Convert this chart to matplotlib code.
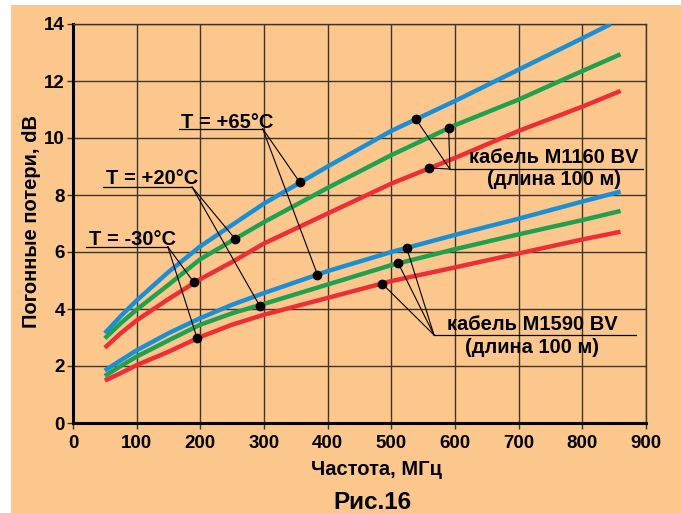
import numpy as np
import matplotlib
matplotlib.use("Agg")
import matplotlib.pyplot as plt
from matplotlib.patches import Rectangle

plt.rcParams['font.family'] = ['Liberation Sans', 'DejaVu Sans']
plt.rcParams['font.weight'] = 'bold'

# frequency grid, MHz
freq = [50, 75, 100, 150, 200, 250, 300, 400, 500, 600, 700, 800, 860]
freq_top = [50, 75, 100, 150, 200, 250, 300, 400, 500, 600, 700, 800, 845]

# cable M1160 BV, loss dB per 100 m
m1160_p65 = [3.15, 3.75, 4.3, 5.3, 6.2, 6.95, 7.7, 9.0, 10.25, 11.3, 12.4, 13.5, 14.0]
m1160_p20 = [2.97, 3.5, 3.98, 4.85, 5.75, 6.4, 7.05, 8.25, 9.4, 10.45, 11.35, 12.35, 12.94]
m1160_m30 = [2.64, 3.15, 3.6, 4.35, 5.05, 5.65, 6.3, 7.35, 8.4, 9.3, 10.25, 11.1, 11.65]

# cable M1590 BV
m1590_p65 = [1.84, 2.2, 2.55, 3.15, 3.68, 4.15, 4.56, 5.33, 6.0, 6.6, 7.17, 7.77, 8.12]
m1590_p20 = [1.65, 2.0, 2.33, 2.9, 3.45, 3.85, 4.18, 4.86, 5.54, 6.1, 6.62, 7.12, 7.44]
m1590_m30 = [1.49, 1.75, 2.03, 2.5, 3.02, 3.45, 3.8, 4.39, 4.98, 5.46, 5.95, 6.44, 6.71]

# marked points (f, dB)
dots_temp = {
    "p65": [(356, 8.45), (384, 5.2)],
    "p20": [(255, 6.45), (293, 4.12)],
    "m30": [(190, 4.93), (195, 2.97)],
}
dots_m1160 = [(538, 10.68), (590, 10.36), (559, 8.95)]
dots_m1590 = [(524, 6.15), (511, 5.6), (486, 4.88)]

temp_labels = ["T = +65°C", "T = +20°C", "T = -30°C"]
cable_labels = ["кабель M1160 BV", "кабель M1590 BV"]
length_label = "(длина 100 м)"

xticks = [0, 100, 200, 300, 400, 500, 600, 700, 800, 900]
yticks = [0, 2, 4, 6, 8, 10, 12, 14]

BLUE = '#1b8fd3'
GREEN = '#1fa150'
RED = '#ec2f36'
PEACH = '#fcc78d'
GRID = '#3d342a'

fig = plt.figure(figsize=(6.81, 5.13), dpi=100)
fig.patch.set_facecolor('white')
fig.patches.append(Rectangle((11 / 681, 0), 1, 508 / 513, transform=fig.transFigure,
                             facecolor=PEACH, edgecolor='none', zorder=-10))

ax = fig.add_axes([73 / 681, 1 - 423 / 513, 573 / 681, 399 / 513])
ax.set_facecolor(PEACH)
ax.set_xlim(0, 900)
ax.set_ylim(0, 14)
ax.set_xticks(xticks)
ax.set_yticks(yticks)
ax.grid(True, color=GRID, lw=1.0)
ax.set_axisbelow(True)
ax.tick_params(axis='both', colors=GRID, length=4, width=1.0, labelsize=13.5, labelcolor='black')
ax.tick_params(axis='x', pad=5)
ax.tick_params(axis='y', pad=2)
for lab in ax.get_xticklabels() + ax.get_yticklabels():
    lab.set_fontweight('bold')
for s in ['left', 'bottom']:
    ax.spines[s].set_color('black')
    ax.spines[s].set_linewidth(2.2)
for s in ['top', 'right']:
    ax.spines[s].set_color(GRID)
    ax.spines[s].set_linewidth(1.0)

lw = 3.2
ax.plot(freq_top, m1160_p65, color=BLUE, lw=lw, solid_capstyle='butt', zorder=3)
ax.plot(freq, m1160_p20, color=GREEN, lw=lw, solid_capstyle='butt', zorder=3)
ax.plot(freq, m1160_m30, color=RED, lw=lw, solid_capstyle='butt', zorder=3)
ax.plot(freq, m1590_p65, color=BLUE, lw=lw, solid_capstyle='butt', zorder=3)
ax.plot(freq, m1590_p20, color=GREEN, lw=lw, solid_capstyle='butt', zorder=3)
ax.plot(freq, m1590_m30, color=RED, lw=lw, solid_capstyle='butt', zorder=3)

# temperature labels with underline and leaders
temp_text_pos = [(242, 10.36), (125, 8.39), (93, 6.25)]
temp_underline = [(166, 298, 10.32), (47, 187, 8.28), (20, 149, 6.18)]
for label, (tx, ty), (x0, x1, uy), key in zip(temp_labels, temp_text_pos, temp_underline,
                                              ["p65", "p20", "m30"]):
    ax.text(tx, ty, label, ha='center', va='baseline', fontsize=14.5, fontweight='bold', zorder=5)
    ax.plot([x0, x1], [uy, uy], color='black', lw=0.9, zorder=4)
    for fx, fy in dots_temp[key]:
        ax.plot([x1, fx], [uy, fy], color='black', lw=0.8, zorder=4)
        ax.plot(fx, fy, 'o', color='black', ms=6, zorder=6)

# cable labels
cable_text = [(755, 9.11, 8.35), (721, 3.26, 2.44)]
cable_underline = [(592, 896, 8.91), (567, 884, 3.09)]
for label, (tx, ty1, ty2), (x0, x1, uy), dots in zip(cable_labels, cable_text, cable_underline,
                                                     [dots_m1160, dots_m1590]):
    ax.text(tx, ty1, label, ha='center', va='baseline', fontsize=14.5, fontweight='bold', zorder=5)
    ax.text(tx, ty2, length_label, ha='center', va='baseline', fontsize=14.5, fontweight='bold', zorder=5)
    ax.plot([x0, x1], [uy, uy], color='black', lw=0.9, zorder=4)
    for fx, fy in dots:
        ax.plot([x0, fx], [uy, fy], color='black', lw=0.8, zorder=4)
        ax.plot(fx, fy, 'o', color='black', ms=6, zorder=6)

fig.text(376 / 681, 1 - 475 / 513, "Частота, МГц", ha='center', va='baseline',
         fontsize=14.5, fontweight='bold')
fig.text(32 / 681, 1 - 222 / 513, "Погонные потери, dB", ha='center', va='center',
         rotation=90, fontsize=14.5, fontweight='bold')
fig.text(372 / 681, 1 - 509 / 513, "Рис.16", ha='center', va='baseline',
         fontsize=17.5, fontweight='bold')

fig.savefig("out.png", dpi=100, facecolor=fig.get_facecolor())
